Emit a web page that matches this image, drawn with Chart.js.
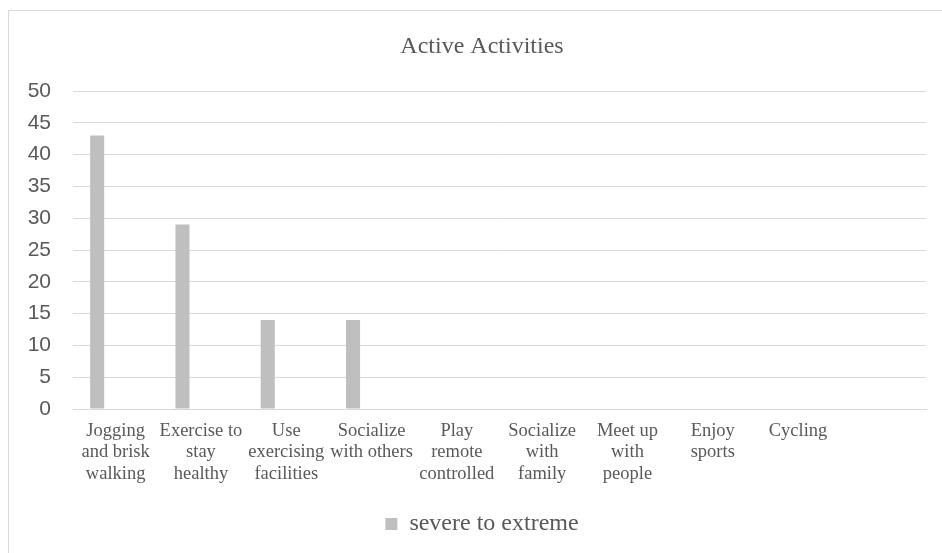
<!DOCTYPE html>
<html>
<head>
<meta charset="utf-8">
<script src="https://cdn.jsdelivr.net/npm/chart.js@4.4.0/dist/chart.umd.min.js"></script>
<style>
    html, body { margin: 0; padding: 0; background: #fff; overflow: hidden; }
    #frame {
        position: absolute; left: 8px; top: 10px;
        width: 960px; height: 580px;
        border: 1px solid #d9d9d9;
    }
    #wrap { position: absolute; left: 0; top: 0; width: 942px; height: 553px; }
</style>
</head>
<body>
<div id="frame"></div>
<div id="wrap"><canvas id="activityChart"></canvas></div>
<script>
// Chart data
const categories = [
    ['Jogging', 'and brisk', 'walking'],
    ['Exercise to', 'stay', 'healthy'],
    ['Use', 'exercising', 'facilities'],
    ['Socialize', 'with others'],
    ['Play', 'remote', 'controlled'],
    ['Socialize', 'with', 'family'],
    ['Meet up', 'with', 'people'],
    ['Enjoy', 'sports'],
    ['Cycling'],
    ['']
];
const seriesName = 'severe to extreme';
const severeValues = [43, 29, 14, 14, 0, 0, 0, 0, 0, 0];
const emptyValues = [null, null, null, null, null, null, null, null, null, null];
const yTicks = [0, 5, 10, 15, 20, 25, 30, 35, 40, 45, 50];

const textColor = '#595959';
const gridColor = '#d9d9d9';
const barColor = '#bfbfbf';

function barSet(label, data) {
    return {
        label: label,
        data: data,
        backgroundColor: barColor,
        borderWidth: 0,
        categoryPercentage: 0.65,
        barPercentage: 0.76
    };
}

// let the y labels draw into the left padding (otherwise they get clipped)
const widenYAxis = {
    id: 'widenYAxis',
    afterLayout(chart) {
        chart.scales.y.left = 0;
    }
};

const ctx = document.getElementById('activityChart').getContext('2d');
const chart = new Chart(ctx, {
    type: 'bar',
    data: {
        labels: categories,
        datasets: [
            barSet(seriesName, severeValues),
            barSet('', emptyValues),
            barSet('', emptyValues)
        ]
    },
    plugins: [widenYAxis],
    options: {
        responsive: true,
        maintainAspectRatio: false,
        animation: false,
        layout: {
            // left padding shifts the centred title/legend to match the original
            padding: { left: 38, right: 16, top: 0, bottom: 7 }
        },
        plugins: {
            tooltip: { enabled: false },
            title: {
                display: true,
                text: 'Active Activities',
                color: textColor,
                font: { family: 'Liberation Serif', size: 24, weight: 'normal', lineHeight: 1.2 },
                padding: { top: 32, bottom: 30.2 }
            },
            legend: {
                position: 'bottom',
                labels: {
                    color: textColor,
                    font: { family: 'Liberation Serif', size: 24 },
                    boxWidth: 12,
                    boxHeight: 12,
                    padding: 10,
                    filter: item => item.text !== ''
                }
            }
        },
        scales: {
            x: {
                grid: { display: false },
                border: { display: true, color: gridColor, width: 1 },
                ticks: {
                    color: textColor,
                    font: { family: 'Liberation Serif', size: 18.5, lineHeight: 1.16 },
                    padding: 3,
                    autoSkip: false,
                    maxRotation: 0,
                    minRotation: 0
                },
                afterFit: scale => { scale.height = 93; }
            },
            y: {
                min: 0,
                max: 50,
                afterBuildTicks: scale => {
                    scale.ticks = yTicks.map(v => ({ value: v }));
                },
                grid: { color: gridColor, lineWidth: 1, drawTicks: false },
                border: { display: false },
                ticks: {
                    color: textColor,
                    font: { family: 'Liberation Sans', size: 21 },
                    padding: 22
                },
                afterFit: scale => { scale.width = 35; }
            }
        }
    }
});
</script>
</body>
</html>
